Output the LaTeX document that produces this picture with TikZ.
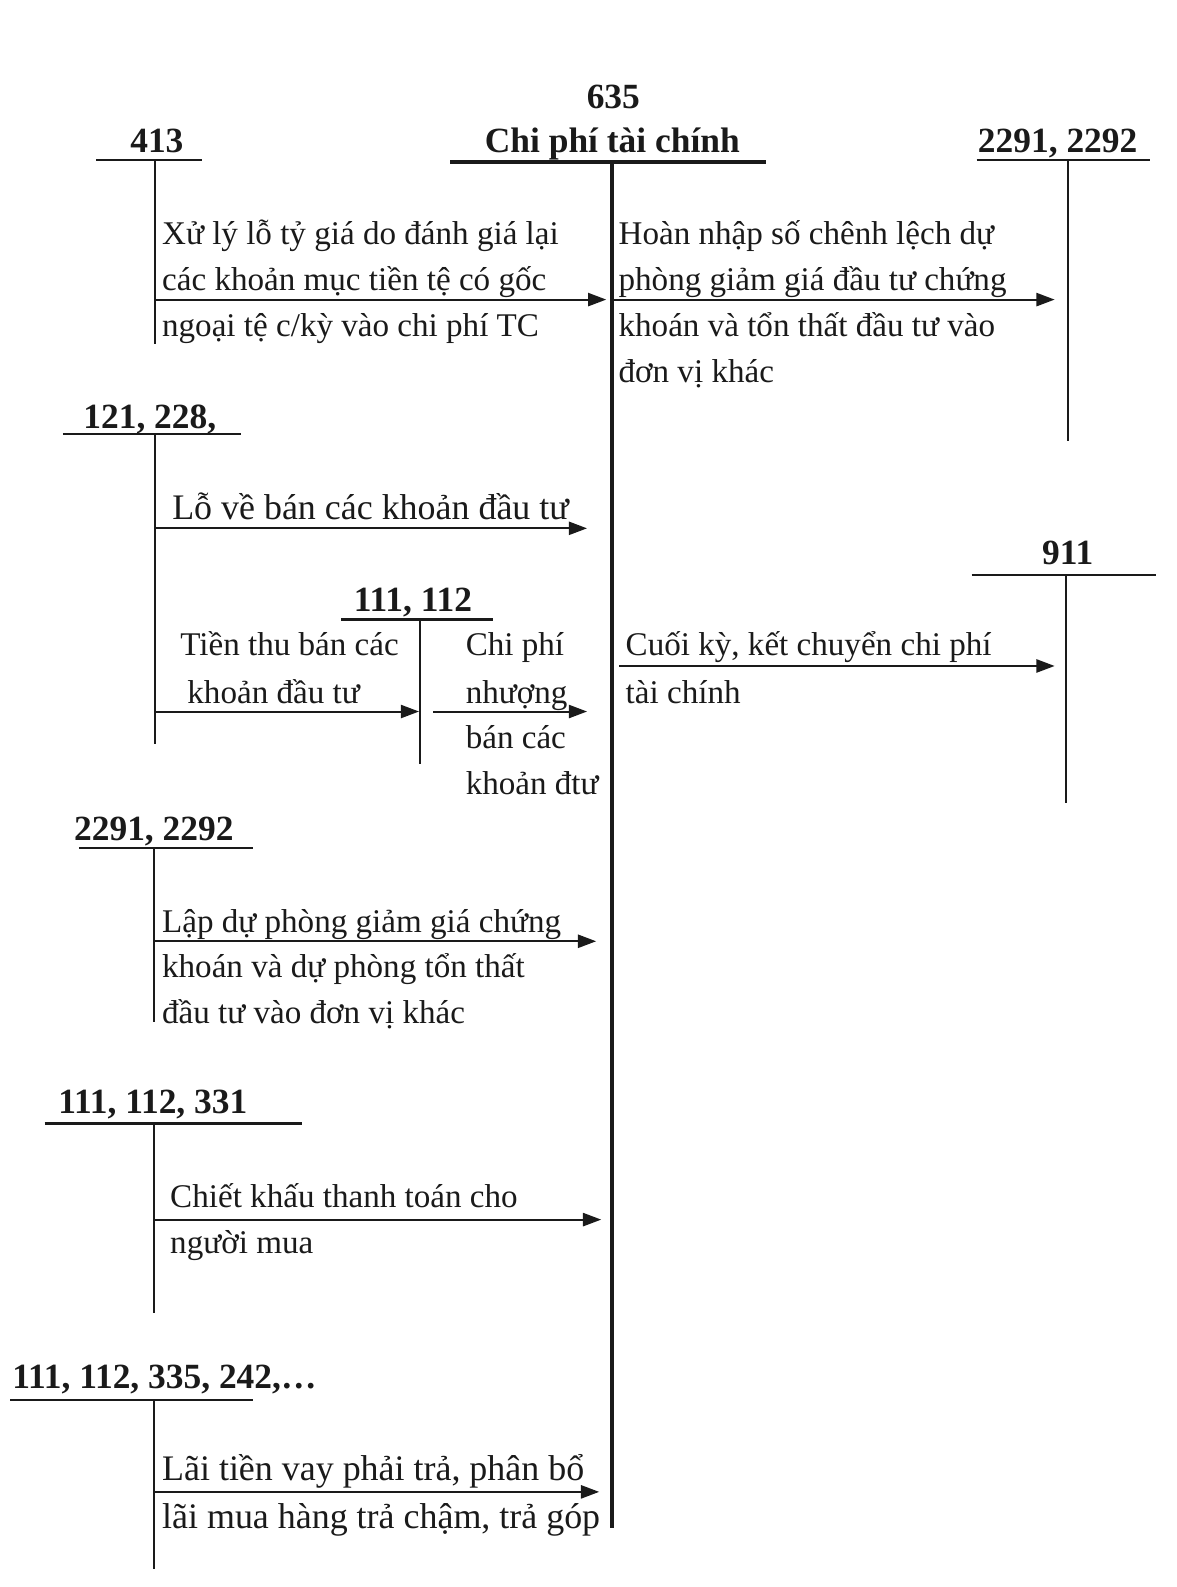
\documentclass[tikz,border=0pt]{standalone}
\usepackage{fontspec}
\setmainfont{Liberation Serif}
\usetikzlibrary{arrows.meta}
\definecolor{ink}{HTML}{1A1A1A}
\tikzset{
  acct/.style={line width=2.4pt, draw=ink},
  mainacct/.style={line width=3.8pt, draw=ink},
  flow/.style={line width=2pt, draw=ink, -{Triangle[length=18pt,width=13pt]}},
  lbl/.style={font=\fontsize{35}{40}\selectfont\bfseries, text=ink, inner sep=0pt, anchor=base},
  lblw/.style={lbl, anchor=base west},
  txt/.style={font=\fontsize{32.7}{45}\selectfont, text=ink, inner sep=0pt, anchor=base west},
  txtbig/.style={txt, font=\fontsize{35.5}{47}\selectfont},
}
\begin{document}
\begin{tikzpicture}[x=1pt,y=-1pt]
\useasboundingbox[fill=white] (0,0) rectangle (1162,1568);

% ---------- central account 635 ----------
\node[lbl] (n635) at (606,107) {635};
\node[lbl] (t635) at (605,151) {Chi phí tài chính};
\coordinate (c635l) at (445,160);
\coordinate (c635r) at (757,160);
\coordinate (c635t) at (605,160);
\coordinate (c635b) at (605,1510);
\draw[mainacct] (c635l) -- (c635r);
\draw[mainacct] (c635t) -- (c635b);

% ---------- 413 ----------
\node[lbl] (n413) at (155,151) {413};
\coordinate (a413l) at (95,158);
\coordinate (a413r) at (200,158);
\coordinate (a413t) at (153,158);
\coordinate (a413b) at (153,340);
\draw[acct] (a413l) -- (a413r);
\draw[acct] (a413t) -- (a413b);
\coordinate (f1s) at (153,296);
\coordinate (f1e) at (599,296);
\draw[flow] (f1s) -- (f1e);
\node[txt] (x1a) at (160,242) {Xử lý lỗ tỷ giá do đánh giá lại};
\node[txt] (x1b) at (160,287) {các khoản mục tiền tệ có gốc};
\node[txt] (x1c) at (160,332) {ngoại tệ c/kỳ vào chi phí TC};

% ---------- 2291, 2292 (right) ----------
\node[lbl] (nR229) at (1045,151) {2291, 2292};
\coordinate (r229l) at (965,158);
\coordinate (r229r) at (1136,158);
\coordinate (r229t) at (1055,158);
\coordinate (r229b) at (1055,436);
\draw[acct] (r229l) -- (r229r);
\draw[acct] (r229t) -- (r229b);
\coordinate (f2s) at (607,296);
\coordinate (f2e) at (1042,296);
\draw[flow] (f2s) -- (f2e);
\node[txt] (x2a) at (611,242) {Hoàn nhập số chênh lệch dự};
\node[txt] (x2b) at (611,287) {phòng giảm giá đầu tư chứng};
\node[txt] (x2c) at (611,332) {khoán và tổn thất đầu tư vào};
\node[txt] (x2d) at (611,378) {đơn vị khác};

% ---------- 121, 228, ----------
\node[lbl] (n121) at (148,423) {121, 228,};
\coordinate (a121l) at (62,429);
\coordinate (a121r) at (238,429);
\coordinate (a121t) at (153,429);
\coordinate (a121b) at (153,735);
\draw[acct] (a121l) -- (a121r);
\draw[acct] (a121t) -- (a121b);
\coordinate (f3s) at (153,522);
\coordinate (f3e) at (580,522);
\draw[flow] (f3s) -- (f3e);
\node[txtbig] (x3a) at (170,513) {Lỗ về bán các khoản đầu tư};

% ---------- 111, 112 (inner) ----------
\node[lbl] (n111) at (408,604) {111, 112};
\coordinate (a111l) at (337,612);
\coordinate (a111r) at (487,612);
\coordinate (a111t) at (415,612);
\coordinate (a111b) at (415,755);
\draw[acct] (a111l) -- (a111r);
\draw[acct] (a111t) -- (a111b);
\coordinate (f4s) at (153,703);
\coordinate (f4e) at (414,703);
\draw[flow] (f4s) -- (f4e);
\node[txt] (x4a) at (178,648) {Tiền thu bán các};
\node[txt] (x4b) at (185,695) {khoản đầu tư};
\coordinate (f5s) at (428,703);
\coordinate (f5e) at (580,703);
\draw[flow] (f5s) -- (f5e);
\node[txt] (x5a) at (460,648) {Chi phí};
\node[txt] (x5b) at (460,695) {nhượng};
\node[txt] (x5c) at (460,740) {bán các};
\node[txt] (x5d) at (460,785) {khoản đtư};

% ---------- 911 ----------
\node[lbl] (n911) at (1055,558) {911};
\coordinate (a911l) at (960,568);
\coordinate (a911r) at (1142,568);
\coordinate (a911t) at (1053,568);
\coordinate (a911b) at (1053,793);
\draw[acct] (a911l) -- (a911r);
\draw[acct] (a911t) -- (a911b);
\coordinate (f6s) at (612,658);
\coordinate (f6e) at (1042,658);
\draw[flow] (f6s) -- (f6e);
\node[txt] (x6a) at (618,648) {Cuối kỳ, kết chuyển chi phí};
\node[txt] (x6b) at (618,695) {tài chính};

% ---------- 2291, 2292 (left) ----------
\node[lbl] (nL229) at (152,830) {2291, 2292};
\coordinate (l229l) at (78,838);
\coordinate (l229r) at (250,838);
\coordinate (l229t) at (152,838);
\coordinate (l229b) at (152,1010);
\draw[acct] (l229l) -- (l229r);
\draw[acct] (l229t) -- (l229b);
\coordinate (f7s) at (152,930);
\coordinate (f7e) at (589,930);
\draw[flow] (f7s) -- (f7e);
\node[txt] (x7a) at (160,921) {Lập dự phòng giảm giá chứng};
\node[txt] (x7b) at (160,966) {khoán và dự phòng tổn thất};
\node[txt] (x7c) at (160,1011) {đầu tư vào đơn vị khác};

% ---------- 111, 112, 331 ----------
\node[lbl] (n331) at (151,1100) {111, 112, 331};
\coordinate (a331l) at (44,1110);
\coordinate (a331r) at (298,1110);
\coordinate (a331t) at (152,1110);
\coordinate (a331b) at (152,1297);
\draw[acct] (a331l) -- (a331r);
\draw[acct] (a331t) -- (a331b);
\coordinate (f8s) at (152,1205);
\coordinate (f8e) at (594,1205);
\draw[flow] (f8s) -- (f8e);
\node[txt] (x8a) at (168,1193) {Chiết khấu thanh toán cho};
\node[txt] (x8b) at (168,1238) {người mua};

% ---------- 111, 112, 335, 242,... ----------
\node[lblw] (n335) at (12,1372) {111, 112, 335, 242,…};
\coordinate (a335l) at (10,1383);
\coordinate (a335r) at (250,1383);
\coordinate (a335t) at (152,1383);
\coordinate (a335b) at (152,1550);
\draw[acct] (a335l) -- (a335r);
\draw[acct] (a335t) -- (a335b);
\coordinate (f9s) at (152,1474);
\coordinate (f9e) at (592,1474);
\draw[flow] (f9s) -- (f9e);
\node[txtbig] (x9a) at (160,1463) {Lãi tiền vay phải trả, phân bổ};
\node[txtbig] (x9b) at (160,1510) {lãi mua hàng trả chậm, trả góp};
\end{tikzpicture}
\end{document}
